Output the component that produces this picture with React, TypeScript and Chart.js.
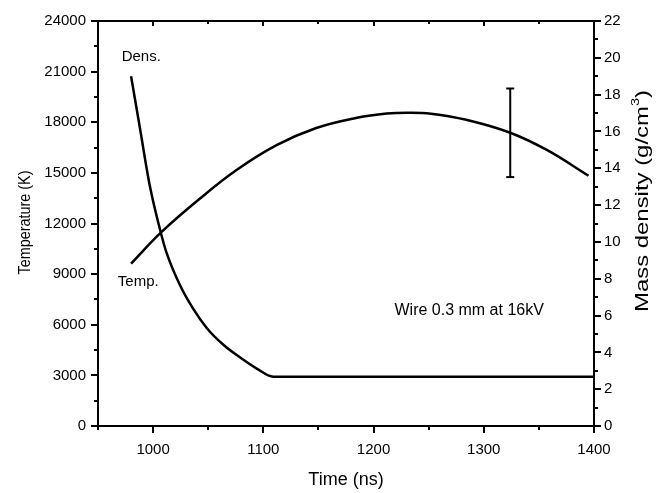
import React, { useEffect, useRef } from 'react';
import { Chart, registerables } from 'chart.js';

Chart.register(...registerables);

// ---- Data ----
const tempTime = [980, 1007, 1042, 1076, 1112, 1148, 1185, 1212, 1232, 1252, 1284, 1324, 1358, 1395];
const temperature = [9620, 11460, 13450, 15180, 16640, 17660, 18270, 18520, 18570, 18510, 18150, 17380, 16330, 14830];

const densTime = [980, 988, 997, 1007, 1012, 1024, 1036, 1049, 1064, 1079, 1094, 1109, 1400];
const density = [19.0, 16.2, 13.05, 10.5, 9.45, 7.7, 6.4, 5.3, 4.4, 3.72, 3.12, 2.68, 2.68];

const xTickValues = [1000, 1100, 1200, 1300, 1400];
const tempTickValues = [0, 3000, 6000, 9000, 12000, 15000, 18000, 21000, 24000];
const densTickValues = [0, 2, 4, 6, 8, 10, 12, 14, 16, 18, 20, 22];

const errTime = [1324];
const errLow = [14750];
const errHigh = [20000];

const FONT = "'Liberation Sans', Arial, Helvetica, sans-serif";

const X_MIN = 950, X_MAX = 1400, X_MINOR = 50;
const T_MAX = 24000, T_MINOR = 1500;
const D_MAX = 22, D_MINOR = 1;

function drawScaledText(ctx: CanvasRenderingContext2D, parts: { t: string; size: number; dy: number }[], cx: number, cy: number, rot: number, targetLen: number) {
  ctx.save();
  ctx.translate(cx, cy);
  ctx.rotate(rot);
  let total = 0;
  const widths = parts.map((p) => {
    ctx.font = `${p.size}px ${FONT}`;
    const w = ctx.measureText(p.t).width;
    total += w;
    return w;
  });
  const s = targetLen / total;
  ctx.scale(s, 1);
  ctx.textBaseline = 'middle';
  ctx.textAlign = 'left';
  let xx = -total / 2;
  parts.forEach((p, i) => {
    ctx.font = `${p.size}px ${FONT}`;
    ctx.fillText(p.t, xx, p.dy);
    xx += widths[i];
  });
  ctx.restore();
}

const decorPlugin = {
  id: 'decor',
  afterDatasetsDraw(chart: any) {
    const { ctx, chartArea: a, scales } = chart;
    const x = scales.x, y = scales.y, y1 = scales.y1;
    ctx.save();
    ctx.strokeStyle = '#000';
    ctx.fillStyle = '#000';
    ctx.lineWidth = 2;
    const line = (x1: number, yA: number, x2: number, yB: number) => {
      ctx.beginPath();
      ctx.moveTo(x1, yA);
      ctx.lineTo(x2, yB);
      ctx.stroke();
    };
    // frame
    ctx.strokeRect(a.left, a.top, a.right - a.left, a.bottom - a.top);

    // x ticks (bottom outward, top inward)
    for (let v = X_MIN; v <= X_MAX + 1e-6; v += X_MINOR) {
      const px = Math.round(x.getPixelForValue(v));
      const major = xTickValues.includes(v);
      line(px, a.bottom, px, a.bottom + (major ? 7 : 4));
      line(px, a.top, px, a.top + (major ? 5 : 3));
    }
    // left ticks
    for (let v = 0; v <= T_MAX + 1e-6; v += T_MINOR) {
      const py = Math.round(y.getPixelForValue(v));
      const major = tempTickValues.includes(v);
      line(a.left, py, a.left - (major ? 7 : 4), py);
    }
    // right ticks
    for (let v = 0; v <= D_MAX + 1e-6; v += D_MINOR) {
      const py = Math.round(y1.getPixelForValue(v));
      const major = densTickValues.includes(v);
      line(a.right, py, a.right + (major ? 7 : 4), py);
    }

    // error bar
    ctx.lineWidth = 2;
    errTime.forEach((t, i) => {
      const px = x.getPixelForValue(t);
      const pLo = y.getPixelForValue(errLow[i]);
      const pHi = y.getPixelForValue(errHigh[i]);
      line(px, pLo, px, pHi);
      line(px - 4, pLo, px + 4, pLo);
      line(px - 4, pHi, px + 4, pHi);
    });

    // annotations (placed in data coordinates: time, temperature)
    ctx.textBaseline = 'middle';
    ctx.textAlign = 'left';
    ctx.font = `15px ${FONT}`;
    ctx.fillText('Dens.', x.getPixelForValue(971.5), y.getPixelForValue(21900));
    ctx.fillText('Temp.', x.getPixelForValue(968), y.getPixelForValue(8550));
    ctx.font = `16px ${FONT}`;
    ctx.fillText('Wire 0.3 mm at 16kV', x.getPixelForValue(1219), y.getPixelForValue(6850));

    // axis titles
    const midY = (a.top + a.bottom) / 2;
    ctx.font = `18px ${FONT}`;
    ctx.textAlign = 'center';
    ctx.fillText('Time (ns)', (a.left + a.right) / 2, 480);
    drawScaledText(ctx, [{ t: 'Temperature (K)', size: 17, dy: 0 }], 25, midY - 1, -Math.PI / 2, 104);
    drawScaledText(
      ctx,
      [
        { t: 'Mass density (g/cm', size: 18, dy: 0 },
        { t: '3', size: 11, dy: -7 },
        { t: ')', size: 18, dy: 0 },
      ],
      643,
      201,
      -Math.PI / 2,
      222
    );
    ctx.restore();
  },
};

const plainTick = (v: any) => String(v);

export default function App() {
  const ref = useRef<HTMLCanvasElement | null>(null);
  useEffect(() => {
    if (!ref.current) return;
    const chart = new Chart(ref.current, {
      type: 'line',
      data: {
        datasets: [
          {
            label: 'Temperature',
            data: tempTime.map((t, i) => ({ x: t, y: temperature[i] })),
            yAxisID: 'y',
            borderColor: '#000',
            borderWidth: 2.5,
            pointRadius: 0,
            tension: 0.4,
            fill: false,
          },
          {
            label: 'Density',
            data: densTime.map((t, i) => ({ x: t, y: density[i] })),
            yAxisID: 'y1',
            borderColor: '#000',
            borderWidth: 2.5,
            pointRadius: 0,
            cubicInterpolationMode: 'monotone',
            fill: false,
          },
        ],
      },
      options: {
        responsive: false,
        animation: false,
        devicePixelRatio: 1,
        layout: { padding: { top: 16, left: 0, right: 0, bottom: 0 } },
        plugins: { legend: { display: false }, tooltip: { enabled: false } },
        scales: {
          x: {
            type: 'linear',
            min: X_MIN,
            max: X_MAX,
            afterBuildTicks: (s: any) => { s.ticks = xTickValues.map((v) => ({ value: v })); },
            afterFit: (s: any) => { s.height = 67; },
            grid: { display: false, drawTicks: false },
            border: { display: false },
            ticks: { color: '#000', font: { family: FONT, size: 15 }, padding: 15, maxRotation: 0, autoSkip: false, callback: plainTick },
          },
          y: {
            type: 'linear',
            position: 'left',
            min: 0,
            max: T_MAX,
            afterBuildTicks: (s: any) => { s.ticks = tempTickValues.map((v) => ({ value: v })); },
            afterFit: (s: any) => { s.width = 98; },
            grid: { display: false, drawTicks: false },
            border: { display: false },
            ticks: { color: '#000', font: { family: FONT, size: 15 }, padding: 12, autoSkip: false, callback: plainTick },
          },
          y1: {
            type: 'linear',
            position: 'right',
            min: 0,
            max: D_MAX,
            afterBuildTicks: (s: any) => { s.ticks = densTickValues.map((v) => ({ value: v })); },
            afterFit: (s: any) => { s.width = 75; },
            grid: { display: false, drawTicks: false },
            border: { display: false },
            ticks: { color: '#000', font: { family: FONT, size: 15 }, padding: 10, autoSkip: false, callback: plainTick },
          },
        },
      },
      plugins: [decorPlugin],
    } as any);
    return () => chart.destroy();
  }, []);
  return (
    <div style={{ position: 'absolute', left: 0, top: 0, width: 669, height: 493, background: '#fff' }}>
      <canvas ref={ref} width={669} height={493} />
    </div>
  );
}
